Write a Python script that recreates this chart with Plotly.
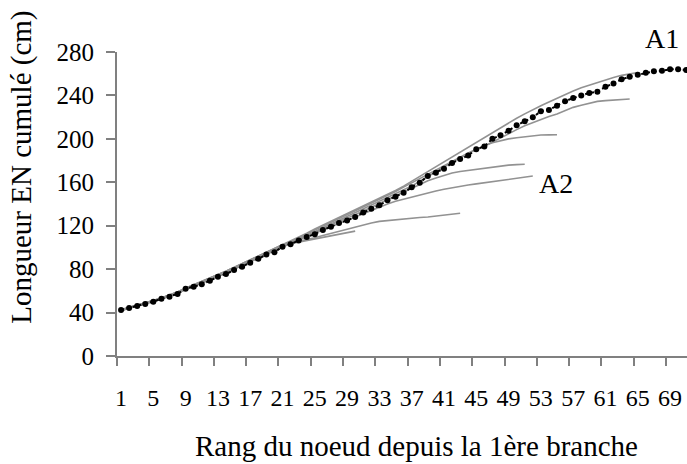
import plotly.graph_objects as go

# Node rank (categories)
nodes = list(range(1, 72))
tick_labels = [str(v) for v in range(1, 70, 4)]

# Mean A1 curve (black dotted)
a1 = [42.4, 44.2, 46, 47.9, 50, 52.8, 54.6, 57.1, 62, 63.8,
      66, 69.4, 73, 75.5, 79.2, 82.3, 85.9, 89.5, 93.4, 95.6,
      100.7, 103, 106.4, 109.7, 112.2, 116, 119, 122.6, 124.8, 128,
      132.2, 135.7, 138.8, 143.4, 146.7, 150.4, 155.4, 159.6, 165.8, 168.8,
      172.5, 177.8, 181.5, 184.7, 190.4, 193, 200.1, 203.3, 207.5, 212.5,
      216.2, 219.9, 225.4, 226.6, 230.6, 234.6, 237.6, 240, 242.3, 243.4,
      248, 251.1, 254.8, 257.3, 259.1, 261, 262.2, 262.8, 264, 264, 263.4]

# Individual axes (grey lines)
g1 = [42, 44, 46, 48, 50, 52.5, 55, 58, 61.5, 64, 67, 70.5, 73.5, 76.5, 80, 83.5,
      87, 90.5, 94, 97.5, 100.5, 103.5,
      105, 106.5, 108, 109, 110.5, 112, 113.5, 115]
g2 = [42, 44, 46, 48, 50.5, 53, 55.5, 58.5, 62, 64.5, 67.5, 71, 74, 77, 80.5, 84,
      87.5, 91, 94.5, 98, 101.5, 104,
      105.5, 107, 109, 111, 113, 115, 117, 119, 121, 122.5, 124, 124.8, 125.5, 126,
      126.8, 127.5, 128, 129, 130, 130.8, 131.5]
g3 = [42.5, 44.5, 46.5, 48.5, 51, 53.5, 56, 59, 62.5, 65.5, 68.5, 72, 75, 78, 81.5,
      85, 88.5, 92, 95.5, 99, 102.5, 104.5,
      106.5, 110, 113, 116.5, 119.5, 122.5, 125, 128, 131, 134, 137, 140, 142.5,
      144.5, 146.5, 148.5, 150.5, 152, 153.5, 155, 156.5, 157.5, 158.5, 159.5,
      160.8, 162, 163, 164, 165, 165.8]
g4 = [42, 44, 46, 48, 50, 52.5, 55, 58, 61.5, 64, 67, 70.5, 73.5, 76.5, 80, 83.5,
      87, 90.5, 94, 97.5, 100.5, 104,
      107, 110.5, 114, 117, 120.5, 124, 127, 130, 133.5, 137, 140.5, 144, 147,
      150.5, 154.5, 158, 161.5, 164, 166.5, 168.5, 170, 171, 172, 173, 174, 175,
      175.8, 176.3, 176.6]
g5 = [42, 44, 46, 48, 50.5, 53, 55.5, 58.5, 62, 64.5, 67.5, 71, 74, 77, 80.5, 84,
      87.5, 91, 94.5, 98, 101.5, 104.5,
      107.5, 111, 114.5, 118, 121.5, 125, 128, 131.5, 135, 138.5, 142, 145.5, 149,
      152.5, 156.5, 161, 165.5, 170, 174, 178.5, 182.5, 186.5, 190.5, 194, 196.5,
      198.5, 200, 201, 202, 203, 203.5, 203.7, 203.8]
g6 = [42.5, 44.5, 46.5, 48.5, 51, 53.5, 56, 59, 62.5, 65.5, 68.5, 72, 75, 78, 81.5,
      85, 88.5, 92, 95.5, 99, 102.5, 105.5,
      108.5, 112.5, 116, 119.5, 123, 126.5, 130, 133.5, 137, 140.5, 144, 148, 151.5,
      155.5, 159.5, 163.5, 167.5, 171.5, 175.5, 179.5, 183.5, 187, 190.5, 193, 197,
      201, 205, 208.5, 212, 215, 218, 220.5, 223, 226, 229, 231, 233, 234.5, 235.2,
      235.8, 236.3, 236.7]
g7 = [42.5, 44.5, 46.5, 48.5, 51, 53.5, 56, 59, 62.5, 65.5, 68.5, 72, 75, 78, 81.5,
      85, 88.5, 92, 95.5, 99, 102.5, 105.5,
      109, 113, 117, 120.5, 124, 127.5, 131, 134.5, 138, 141.5, 145.5, 149, 152.5,
      156.5, 161, 165.5, 170, 174.5, 179, 183.5, 188, 192.5, 197, 201, 205.5, 210,
      214.5, 219, 223, 227, 230.5, 234, 237.5, 241, 244, 247, 249.5, 252, 254.5,
      256.5, 258.5, 260, 261]

greys = [g1, g2, g3, g4, g5, g6, g7]

SERIF = "Liberation Serif, Times New Roman, serif"
AXIS_COL = "#808080"

fig = go.Figure()
for g in greys:
    fig.add_trace(go.Scatter(x=nodes[:len(g)], y=g, mode="lines",
                             line=dict(color="#929292", width=1.6),
                             showlegend=False, hoverinfo="skip"))

fig.add_trace(go.Scatter(x=nodes, y=a1, mode="lines+markers",
                         line=dict(color="black", width=2, dash="dot"),
                         marker=dict(color="black", size=6),
                         cliponaxis=False, showlegend=False))

# Series labels
fig.add_annotation(x=0.956, y=1.046, xref="paper", yref="paper", text="A1",
                   showarrow=False, xanchor="center", yanchor="middle",
                   font=dict(family=SERIF, size=28, color="black"))
fig.add_annotation(x=0.771, y=0.569, xref="paper", yref="paper", text="A2",
                   showarrow=False, xanchor="center", yanchor="middle",
                   font=dict(family=SERIF, size=28, color="black"))

# Axis titles
fig.add_annotation(x=0.526, y=-0.297, xref="paper", yref="paper",
                   text="Rang du noeud depuis la 1ère branche", showarrow=False,
                   xanchor="center", yanchor="middle",
                   font=dict(family=SERIF, size=29, color="black"))
fig.add_annotation(x=-0.167, y=0.622, xref="paper", yref="paper",
                   text="Longueur EN cumulé (cm)", textangle=-90, showarrow=False,
                   xanchor="center", yanchor="middle",
                   font=dict(family=SERIF, size=29, color="black"))

fig.update_layout(
    width=687, height=464,
    margin=dict(l=117, r=0, t=52, b=108),
    plot_bgcolor="white", paper_bgcolor="white",
    font=dict(family=SERIF, size=24, color="black"),
    xaxis=dict(range=[0.5, 71.1], showgrid=False, zeroline=False,
               showline=True, linecolor=AXIS_COL, linewidth=2,
               tickmode="array", tickvals=list(range(1, 70, 4)),
               ticktext=tick_labels, ticks="", ticklabelstandoff=19,
               tickfont=dict(family=SERIF, size=24),
               minor=dict(tickmode="linear", tick0=0.5, dtick=4, ticks="outside",
                          ticklen=8, tickwidth=1.5, tickcolor=AXIS_COL, showgrid=False)),
    yaxis=dict(range=[0, 280], showgrid=False, zeroline=False,
               showline=True, linecolor=AXIS_COL, linewidth=2,
               tickmode="array", tickvals=list(range(0, 281, 40)),
               ticks="outside", ticklen=9, tickwidth=1.5, tickcolor=AXIS_COL,
               ticklabelstandoff=7,
               tickfont=dict(family=SERIF, size=25)),
)

fig.write_html("out.html", config={"displayModeBar": False},
               post_script="document.body.style.margin='0';")
